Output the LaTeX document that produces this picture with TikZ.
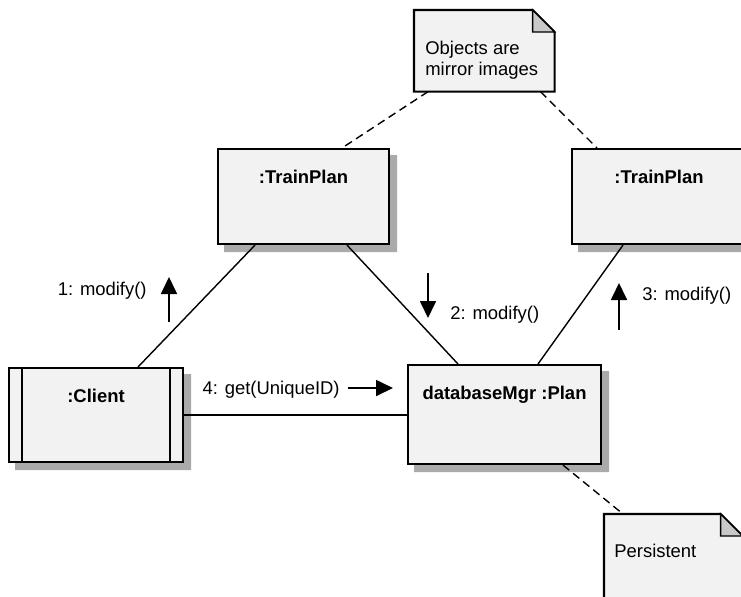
\documentclass[tikz,border=0pt]{standalone}
\usepackage{fontspec}
\setmainfont{Liberation Sans}
\usetikzlibrary{calc,arrows.meta}

\definecolor{shadowgray}{RGB}{170,170,170}
\definecolor{boxgray}{RGB}{242,242,242}
\definecolor{foldgray}{RGB}{200,200,200}

\tikzset{
  objbox/.style={draw=black, line width=1.2pt, fill=boxgray, anchor=north west, inner sep=0pt},
  notebox/.style={anchor=north west, inner sep=0pt},
  notefill/.style={draw=black, line width=1.2pt, fill=boxgray, line join=miter},
  foldfill/.style={draw=black, line width=0.8pt, fill=foldgray},
  link/.style={line width=0.8pt},
  notelink/.style={line width=0.8pt, dash pattern=on 0.16cm off 0.1cm},
  msg/.style={line width=1pt, -{Triangle[length=0.34cm,width=0.32cm]}},
  objname/.style={font=\bfseries\fontsize{10.5}{13}\selectfont, anchor=base, inner sep=0pt},
  msgtext/.style={font=\fontsize{10.5}{13}\selectfont, inner sep=0pt},
}

% L-shaped shadow strip along the right and bottom sides of a box
\newcommand{\boxshadow}[1]{%
  \fill[shadowgray] ($(#1.north east)+(0,7)$) -- ($(#1.north east)+(7,7)$)
    -- ($(#1.south east)+(7,7)$) -- ($(#1.south west)+(7,7)$)
    -- ($(#1.south west)+(7,0)$) -- (#1.south east) -- cycle;
}

% note outline with a folded corner, drawn round an empty node
\newcommand{\dogear}[1]{%
  \filldraw[notefill] (#1.north west) -- ($(#1.north east)+(-22,0)$)
    -- ($(#1.north east)+(0,22)$) -- (#1.south east) -- (#1.south west) -- cycle;
  \filldraw[foldfill] ($(#1.north east)+(-22,0)$) -- ($(#1.north east)+(-22,22)$)
    -- ($(#1.north east)+(0,22)$) -- cycle;
}

\begin{document}
\begin{tikzpicture}[x=0.02cm,y=-0.02cm]
  \useasboundingbox (0,0) rectangle (741,596);

  % === object boxes ===
  \node[objbox, minimum width=3.42cm, minimum height=1.90cm] (tpA) at (217,148) {};
  \node[objbox, minimum width=3.48cm, minimum height=1.90cm] (tpB) at (571,148) {};
  \node[objbox, minimum width=3.48cm, minimum height=1.88cm] (client) at (8,367) {};
  \node[objbox, minimum width=3.86cm, minimum height=1.98cm] (dbm) at (407,364) {};
  \boxshadow{tpA}
  \boxshadow{tpB}
  \boxshadow{client}
  \boxshadow{dbm}

  % active object: extra side bars
  \draw[line width=1.2pt] ($(client.north west)+(14,0)$) -- ($(client.south west)+(14,0)$);
  \draw[line width=1.2pt] ($(client.north east)+(-14,0)$) -- ($(client.south east)+(-14,0)$);

  \node[objname] (tpA-name)    at ($(tpA.north)+(0,35)$)    {:TrainPlan};
  \node[objname] (tpB-name)    at ($(tpB.north)+(0,35)$)    {:TrainPlan};
  \node[objname] (client-name) at ($(client.north)+(0,35)$) {:Client};
  \node[objname] (dbm-name)    at ($(dbm.north)+(0,35)$)    {databaseMgr :Plan};

  % === notes ===
  \node[notebox, minimum width=2.80cm, minimum height=1.62cm] (note1) at (414,10) {};
  \node[notebox, minimum width=2.76cm, minimum height=2.40cm] (note2) at (604,514) {};
  \dogear{note1}
  \dogear{note2}
  \node[msgtext, anchor=north west, align=left] (note1-text) at ($(note1.north west)+(11,31)$)
    {Objects are\\[-1.2pt]mirror images};
  \node[msgtext, anchor=north west] (note2-text) at ($(note2.north west)+(10,30)$) {Persistent};

  % --- links between objects
  \draw[link] ($(client.north west)+(130,0)$) -- ($(tpA.south west)+(38,0)$);
  \draw[link] ($(tpA.south west)+(130,0)$) -- ($(dbm.north west)+(51,0)$);
  \draw[link] ($(tpB.south west)+(52,0)$) -- ($(dbm.north west)+(131,0)$);
  \draw[link] (client.east) -- (client.east -| dbm.west);

  % --- note anchors (dashed)
  \draw[notelink] ($(note1.south west)+(14,0)$) -- ($(tpA.north west)+(125,0)$);
  \draw[notelink] ($(note1.south east)+(-14,0)$) -- ($(tpB.north west)+(26,0)$);
  \draw[notelink] ($(dbm.south west)+(156,0)$) -- ($(note2.north west)+(19,0)$);

  % === messages ===
  \coordinate (m1) at (169,322);
  \coordinate (m2) at (428,273);
  \coordinate (m3) at (619,330);
  \coordinate (m4) at (348,388);
  \draw[msg] (m1) -- ++(0,-45);
  \draw[msg] (m2) -- ++(0,45);
  \draw[msg] (m3) -- ++(0,-47);
  \draw[msg] (m4) -- ++(45,0);
  \node[msgtext, anchor=base east] (m1-text) at (147,295) {1: modify()};
  \node[msgtext, anchor=base west] (m2-text) at (450,319) {2: modify()};
  \node[msgtext, anchor=base west] (m3-text) at (642,300) {3: modify()};
  \node[msgtext, anchor=base east] (m4-text) at (340,394) {4: get(UniqueID)};
\end{tikzpicture}
\end{document}
